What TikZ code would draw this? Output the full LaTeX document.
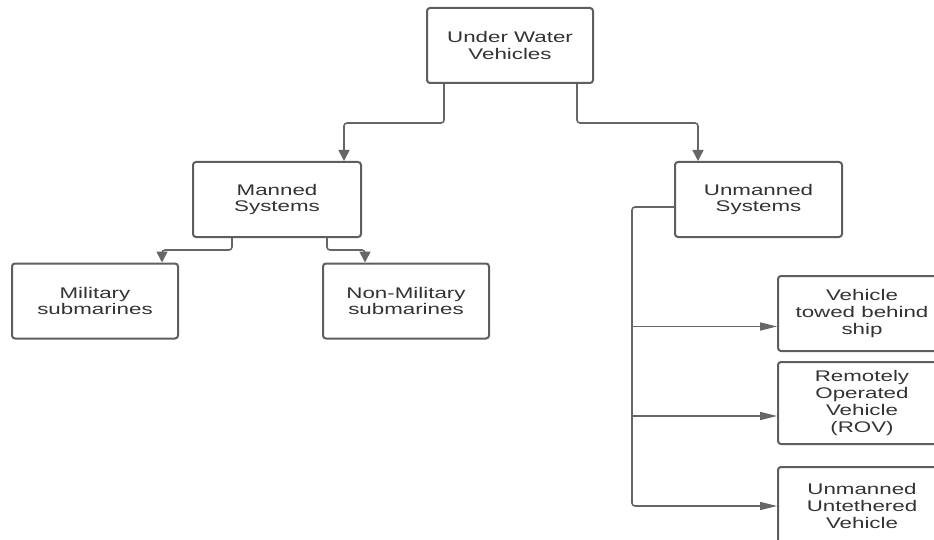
\documentclass[tikz,border=0pt]{standalone}
\usepackage{fontspec}
\setmainfont{Liberation Sans}[FakeStretch=1.45]
\usetikzlibrary{arrows.meta}
\definecolor{boxline}{HTML}{5E5E5E}
\definecolor{wire}{HTML}{666666}
\definecolor{label}{HTML}{333333}
\begin{document}
\begin{tikzpicture}[x=1pt,y=-1pt,
  box/.style={draw=boxline,line width=2pt,rounded corners=3pt,fill=white,
    minimum width=166pt,minimum height=75pt,inner sep=0pt,align=center,
    text=label,font=\fontsize{15.4pt}{16.7pt}\selectfont},
  wirebase/.style={draw=wire,line width=1.6pt,rounded corners=3pt},
  vconn/.style={wirebase,-{Triangle[length=11pt,width=11pt]}},
  hconn/.style={wirebase,-{Triangle[length=17pt,width=8pt]}}]
\clip (0,0) rectangle (934,540);
\fill[white] (0,0) rectangle (934,540);

% boxes
\node[box] (top) at (510,45.5) {Under Water\\Vehicles};
\node[box,minimum width=168pt] (manned) at (277,199.5) {Manned\\Systems};
\node[box,minimum width=167pt] (unmanned) at (758.5,199.5) {Unmanned\\Systems};
\node[box] (military) at (95,301) {Military\\submarines};
\node[box] (nonmil) at (406,301) {Non-Military\\submarines};
\node[box,minimum width=168pt] (towed) at (862,313.5) {Vehicle\\towed behind\\ship};
\node[box,minimum width=168pt,minimum height=82pt] (rov) at (862,403) {Remotely\\Operated\\Vehicle\\(ROV)};
\node[box,minimum width=168pt,minimum height=78pt] (untethered) at (862,506) {Unmanned\\Untethered\\Vehicle};

% connectors
\draw[vconn] ([xshift=-66pt]top.south) -- ++(0,39) -| ([xshift=67pt]manned.north);
\draw[vconn] ([xshift=67pt]top.south) -- ++(0,39) -| ([xshift=-60.5pt]unmanned.north);
\draw[vconn] ([xshift=-45pt]manned.south) -- ++(0,12) -| ([xshift=67pt]military.north);
\draw[vconn] ([xshift=50pt]manned.south) -- ++(0,12) -| ([xshift=-41pt]nonmil.north);

% trunk line feeding the unmanned sub-types
\coordinate (trunk) at (632,300);
\coordinate (towedin) at ([yshift=-13pt]towed.west);
\coordinate (rovin) at ([yshift=-13pt]rov.west);
\draw[hconn] ([yshift=-7.5pt]unmanned.west) -| (trunk) |- (untethered.west);
\draw[hconn] (trunk |- towedin) -- (towedin);
\draw[hconn] (trunk |- rovin) -- (rovin);
\end{tikzpicture}
\end{document}
